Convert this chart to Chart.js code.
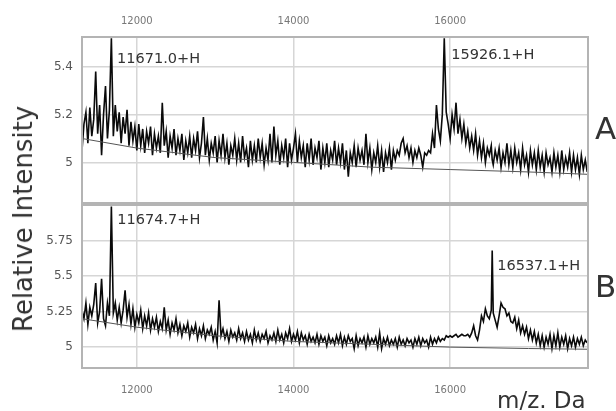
<!DOCTYPE html>
<html>
<head>
<meta charset="utf-8">
<script src="https://cdn.jsdelivr.net/npm/chart.js@4/dist/chart.umd.min.js"></script>
<style>
  body { margin: 0; background: #fff; }
  #wrap { position: relative; width: 616px; height: 411px; overflow: hidden; font-family: "DejaVu Sans", sans-serif; color: #333; }
  .panel { position: absolute; left: 0; width: 616px; }
  .txt { position: absolute; white-space: nowrap; line-height: 1; }
</style>
</head>
<body>
<div id="wrap">
  <div class="panel" style="top:0;height:204px"><canvas id="chartA" width="616" height="204"></canvas></div>
  <div class="panel" style="top:204px;height:207px"><canvas id="chartB" width="616" height="207"></canvas></div>
  <div class="txt" style="left:23px;top:219px;font-size:26px;transform:translate(-50%,-50%) rotate(-90deg)">Relative Intensity</div>
  <div class="txt" style="left:595px;top:128px;font-size:31px;transform:translateY(-50%)">A</div>
  <div class="txt" style="left:595px;top:286px;font-size:31px;transform:translateY(-50%)">B</div>
  <div class="txt" style="left:497px;top:400px;font-size:23px;transform:translateY(-50%)">m/z. Da</div>
</div>
<script>
// x ticks (m/z, Da)
const xTicks = [12000, 14000, 16000];

// m/z sampling points, shared by both spectra
const mz = [
  11300, 11325, 11350, 11375, 11400, 11425, 11450, 11475, 11500, 11525,
  11550, 11575, 11600, 11625, 11650, 11675, 11700, 11725, 11750, 11775,
  11800, 11825, 11850, 11875, 11900, 11925, 11950, 11975, 12000, 12025,
  12050, 12075, 12100, 12125, 12150, 12175, 12200, 12225, 12250, 12275,
  12300, 12325, 12350, 12375, 12400, 12425, 12450, 12475, 12500, 12525,
  12550, 12575, 12600, 12625, 12650, 12675, 12700, 12725, 12750, 12775,
  12800, 12825, 12850, 12875, 12900, 12925, 12950, 12975, 13000, 13025,
  13050, 13075, 13100, 13125, 13150, 13175, 13200, 13225, 13250, 13275,
  13300, 13325, 13350, 13375, 13400, 13425, 13450, 13475, 13500, 13525,
  13550, 13575, 13600, 13625, 13650, 13675, 13700, 13725, 13750, 13775,
  13800, 13825, 13850, 13875, 13900, 13925, 13950, 13975, 14000, 14025,
  14050, 14075, 14100, 14125, 14150, 14175, 14200, 14225, 14250, 14275,
  14300, 14325, 14350, 14375, 14400, 14425, 14450, 14475, 14500, 14525,
  14550, 14575, 14600, 14625, 14650, 14675, 14700, 14725, 14750, 14775,
  14800, 14825, 14850, 14875, 14900, 14925, 14950, 14975, 15000, 15025,
  15050, 15075, 15100, 15125, 15150, 15175, 15200, 15225, 15250, 15275,
  15300, 15325, 15350, 15375, 15400, 15425, 15450, 15475, 15500, 15525,
  15550, 15575, 15600, 15625, 15650, 15675, 15700, 15725, 15750, 15775,
  15800, 15825, 15850, 15875, 15900, 15925, 15950, 15975, 16000, 16025,
  16050, 16075, 16100, 16125, 16150, 16175, 16200, 16225, 16250, 16275,
  16300, 16325, 16350, 16375, 16400, 16425, 16450, 16475, 16500, 16525, 16537,
  16550, 16575, 16600, 16625, 16650, 16675, 16700, 16725, 16750, 16775,
  16800, 16825, 16850, 16875, 16900, 16925, 16950, 16975, 17000, 17025,
  17050, 17075, 17100, 17125, 17150, 17175, 17200, 17225, 17250, 17275,
  17300, 17325, 17350, 17375, 17400, 17425, 17450, 17475, 17500, 17525,
  17550, 17575, 17600, 17625, 17650, 17675, 17700, 17725, 17750
];

// spectrum A
const intA = [
  5.05, 5.16, 5.21, 5.08, 5.23, 5.11, 5.18, 5.38, 5.12, 5.24,
  5.03, 5.20, 5.32, 5.10, 5.22, 5.52, 5.11, 5.24, 5.13, 5.21,
  5.08, 5.19, 5.12, 5.22, 5.07, 5.17, 5.09, 5.15, 5.05, 5.16,
  5.07, 5.14, 5.04, 5.13, 5.08, 5.15, 5.03, 5.12, 5.06, 5.11,
  5.04, 5.25, 5.07, 5.13, 5.02, 5.11, 5.06, 5.14, 5.03, 5.10,
  5.05, 5.12, 5.01, 5.09, 5.04, 5.11, 5.02, 5.10, 5.05, 5.13,
  5.02, 5.08, 5.19, 5.03, 5.10, 5.01, 5.08, 5.04, 5.11, 5.00,
  5.09, 5.03, 5.12, 5.02, 5.08, 4.99, 5.07, 5.03, 5.10, 5.01,
  5.08, 5.00, 5.11, 5.02, 5.06, 4.98, 5.09, 5.01, 5.07, 5.00,
  5.10, 5.02, 5.08, 4.99, 5.06, 5.01, 5.12, 5.00, 5.15, 5.03,
  5.09, 4.99, 5.07, 5.02, 5.10, 4.98, 5.08, 5.01, 5.06, 5.12,
  5.00, 5.09, 5.02, 5.07, 4.98, 5.08, 5.01, 5.10, 4.99, 5.06,
  5.02, 5.09, 4.97, 5.06, 5.00, 5.08, 4.98, 5.05, 5.01, 5.09,
  4.99, 5.06, 5.00, 5.08, 4.97, 5.05, 4.94, 5.04, 5.00, 5.07,
  4.98, 5.06, 5.01, 5.05, 4.99, 5.12, 5.00, 5.06, 4.97, 5.04,
  5.00, 5.07, 4.98, 5.05, 4.96, 5.04, 5.00, 5.06, 4.97, 5.05,
  5.01, 5.05, 5.03, 5.08, 5.10, 5.04, 5.07, 5.02, 5.06, 5.00,
  5.05, 5.02, 5.06, 5.03, 4.98, 5.04, 5.03, 5.05, 5.04, 5.12,
  5.06, 5.24, 5.14, 5.09, 5.20, 5.52, 5.21, 5.16, 5.10, 5.20,
  5.14, 5.25, 5.12, 5.18, 5.10, 5.16, 5.08, 5.13, 5.06, 5.11,
  5.05, 5.12, 5.03, 5.09, 5.02, 5.08, 5.00, 5.06, 5.03, 5.07, 5.01,
  4.99, 5.05, 5.01, 5.06, 4.98, 5.04, 5.00, 5.08, 4.99, 5.05,
  4.98, 5.06, 5.00, 5.04, 4.97, 5.06, 4.99, 5.03, 4.96, 5.05,
  4.99, 5.04, 4.97, 5.05, 4.98, 5.03, 4.96, 5.04, 4.99, 5.02,
  4.96, 5.04, 4.98, 5.03, 4.96, 5.05, 4.97, 5.02, 4.98, 5.04,
  4.96, 5.03, 4.97, 5.02, 4.95, 5.03, 4.97, 5.01, 4.96
];

// spectrum B
const intB = [
  5.26, 5.20, 5.31, 5.16, 5.28, 5.22, 5.30, 5.45, 5.17, 5.25,
  5.48, 5.20, 5.15, 5.31, 5.22, 5.99, 5.24, 5.31, 5.19, 5.28,
  5.17, 5.26, 5.40, 5.21, 5.30, 5.16, 5.27, 5.14, 5.23, 5.17,
  5.26, 5.13, 5.22, 5.15, 5.24, 5.12, 5.20, 5.14, 5.21, 5.11,
  5.18, 5.13, 5.28, 5.12, 5.19, 5.09, 5.17, 5.12, 5.20, 5.10,
  5.16, 5.08, 5.15, 5.11, 5.17, 5.07, 5.14, 5.10, 5.16, 5.06,
  5.13, 5.08, 5.15, 5.06, 5.12, 5.09, 5.14, 5.05, 5.11, 5.03,
  5.33, 5.08, 5.13, 5.06, 5.11, 5.04, 5.12, 5.07, 5.10, 5.05,
  5.13, 5.06, 5.10, 5.04, 5.11, 5.05, 5.09, 5.03, 5.12, 5.05,
  5.10, 5.04, 5.09, 5.06, 5.11, 5.03, 5.08, 5.05, 5.10, 5.04,
  5.12, 5.05, 5.09, 5.03, 5.10, 5.06, 5.13, 5.04, 5.09, 5.05,
  5.11, 5.03, 5.10, 5.05, 5.08, 5.02, 5.09, 5.04, 5.07, 5.03,
  5.09, 5.02, 5.08, 5.04, 5.07, 5.01, 5.08, 5.03, 5.06, 5.02,
  5.08, 5.03, 5.09, 5.01, 5.07, 5.02, 5.08, 5.04, 5.06, 4.99,
  5.08, 5.01, 5.06, 5.03, 5.07, 5.00, 5.08, 5.02, 5.06, 5.03,
  5.07, 5.00, 5.10, 4.99, 5.06, 5.02, 5.07, 5.01, 5.05, 5.02,
  5.06, 5.00, 5.07, 5.02, 5.05, 5.01, 5.06, 5.03, 5.05, 5.00,
  5.06, 5.02, 5.07, 5.01, 5.06, 5.03, 5.05, 5.00, 5.07, 5.02,
  5.06, 5.03, 5.07, 5.04, 5.06, 5.05, 5.08, 5.07, 5.08, 5.07,
  5.08, 5.09, 5.07, 5.08, 5.09, 5.08, 5.08, 5.09, 5.07, 5.10,
  5.15, 5.08, 5.05, 5.12, 5.22, 5.18, 5.27, 5.22, 5.20, 5.26, 5.68,
  5.24, 5.19, 5.14, 5.22, 5.31, 5.28, 5.27, 5.22, 5.24, 5.18,
  5.17, 5.21, 5.13, 5.19, 5.10, 5.15, 5.09, 5.14, 5.06, 5.12,
  5.05, 5.11, 5.03, 5.09, 5.01, 5.08, 5.00, 5.07, 5.02, 5.09,
  4.99, 5.08, 5.01, 5.10, 5.00, 5.07, 5.02, 5.08, 4.99, 5.06,
  5.01, 5.07, 5.00, 5.06, 5.02, 5.07, 5.01, 5.05, 5.03
];

// fitted baselines
const baseMz = [11300, 12000, 13000, 14000, 15000, 16000, 17000, 17760];
const baseA = [5.10, 5.06, 5.02, 5.00, 4.98, 4.97, 4.96, 4.95];
const baseB = [5.20, 5.14, 5.08, 5.04, 5.02, 5.00, 4.99, 4.985];

// peak labels
const peakNamesA = ["11671.0+H", "15926.1+H"];
const peakMzA = [11671, 15926];
const peakNamesB = ["11674.7+H", "16537.1+H"];
const peakMzB = [11675, 16537];

const yTicksA = [5, 5.2, 5.4];
const yTicksB = [5, 5.25, 5.5, 5.75];

//box around the plot area + peak labels
const framePlugin = {
  id: "frame",
  afterDraw(chart) {
    const { ctx, chartArea: a } = chart;
    ctx.save();
    ctx.strokeStyle = "#b4b4b4";
    ctx.lineWidth = 2;
    ctx.strokeRect(a.left, a.top, a.right - a.left, a.bottom - a.top);
    const opts = chart.options.plugins.frame;
    ctx.fillStyle = "#333";
    ctx.font = "14.5px 'DejaVu Sans'";
    ctx.textBaseline = "middle";
    opts.names.forEach((name, i) => {
      const px = chart.scales.x.getPixelForValue(opts.mz[i]) + opts.dx[i];
      const py = chart.scales.y.getPixelForValue(opts.ly[i]);
      ctx.fillText(name, px, py);
    });
    ctx.restore();
  },
};

function toPoints(xs, ys) {
  return xs.map((x, i) => ({ x: x, y: ys[i] }));
}

function noPad(s) {
  s.paddingTop = 0;
  s.paddingBottom = 0;
  s.paddingLeft = 0;
  s.paddingRight = 0;
}

function makeChart(el, cfg) {
  return new Chart(el, {
    type: "line",
    data: {
      datasets: [
        {
          data: toPoints(baseMz, cfg.base),
          borderColor: "#555",
          borderWidth: 1,
          pointRadius: 0,
        },
        {
          data: toPoints(mz, cfg.ints),
          borderColor: "#0a0a0a",
          borderWidth: 1.6,
          pointRadius: 0,
        },
      ],
    },
    options: {
      responsive: false,
      animation: false,
      layout: { padding: cfg.padding },
      scales: {
        x: {
          type: "linear",
          position: cfg.xPos,
          min: 11300,
          max: 17760,
          afterFit: (s) => { s.height = cfg.xHeight; noPad(s); },
          afterBuildTicks: (s) => { s.ticks = xTicks.map((v) => ({ value: v })); },
          grid: { color: "#d6d6d6", lineWidth: 1.5, drawTicks: false },
          border: { display: false },
          ticks: {
            color: "#777", padding: cfg.xPad, maxRotation: 0,
            font: { family: "DejaVu Sans", size: 10 },
            callback: (v) => String(v),
          },
        },
        y: {
          min: cfg.yMin,
          max: cfg.yMax,
          afterFit: (s) => { s.width = 82; noPad(s); },
          afterBuildTicks: (s) => { s.ticks = cfg.yTicks.map((v) => ({ value: v })); },
          grid: { color: "#d6d6d6", lineWidth: 1.5, drawTicks: false },
          border: { display: false },
          ticks: {
            color: "#555", padding: 9,
            font: { family: "DejaVu Sans", size: 12 },
            callback: (v) => String(v),
          },
        },
      },
      plugins: {
        legend: { display: false },
        tooltip: { enabled: false },
        frame: { names: cfg.names, mz: cfg.peaks, dx: cfg.dx, ly: cfg.ly },
      },
    },
    plugins: [framePlugin],
  });
}

//Panel A
makeChart(document.getElementById("chartA"), {
  ints: intA, base: baseA,
  yMin: 4.83, yMax: 5.525, yTicks: yTicksA,
  xPos: "top", xHeight: 37, xPad: 10,
  padding: { left: 0, right: 28, top: 0, bottom: 1 },
  names: peakNamesA, peaks: peakMzA, dx: [6, 7], ly: [5.43, 5.45],
});

//Panel B
makeChart(document.getElementById("chartB"), {
  ints: intB, base: baseB,
  yMin: 4.853, yMax: 6.0, yTicks: yTicksB,
  xPos: "bottom", xHeight: 43, xPad: 16,
  padding: { left: 0, right: 28, top: 1, bottom: 0 },
  names: peakNamesB, peaks: peakMzB, dx: [6, 5], ly: [5.89, 5.57],
});
</script>
</body>
</html>
